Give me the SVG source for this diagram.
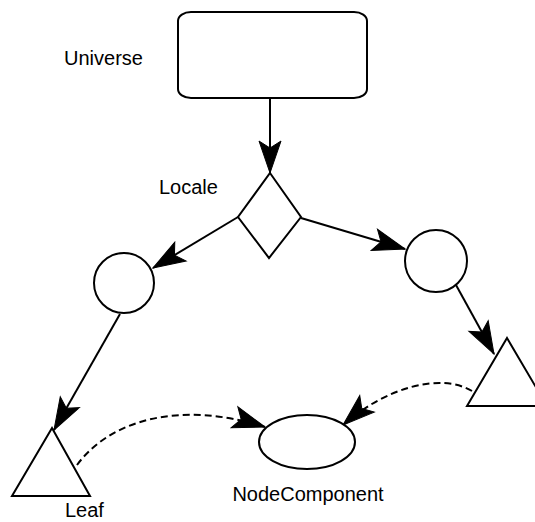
<svg xmlns="http://www.w3.org/2000/svg" width="535" height="522" viewBox="0 0 535 522">
  <style>
    .shape { fill: #ffffff; stroke: #000000; stroke-width: 2; }
    .edge { fill: none; stroke: #000000; stroke-width: 2; }
    .dashed { stroke-dasharray: 7 4; }
    .label { font-family: "Liberation Sans", Arial, sans-serif; font-size: 20px; fill: #000000; }
  </style>
  <defs>
    <!-- barbed arrowhead, tip at refX -->
    <marker id="barb" markerUnits="userSpaceOnUse" markerWidth="40" markerHeight="30" refX="36" refY="15" orient="auto" overflow="visible">
      <path d="M36,15 L4,4 L11,15 L4,26 Z" fill="#000000" stroke="#000000" stroke-width="1" stroke-linejoin="miter"/>
    </marker>
  </defs>

  <rect width="535" height="522" fill="#ffffff"/>

  <!-- connectors -->
  <g id="connectors">
    <path class="edge" d="M270,98 L270,173" marker-end="url(#barb)"/>
    <path class="edge" d="M238,217 L153,268" marker-end="url(#barb)"/>
    <path class="edge" d="M301,218 L405,249" marker-end="url(#barb)"/>
    <path class="edge" d="M120,314 L54,430" marker-end="url(#barb)"/>
    <path class="edge" d="M456,285 L494,354" marker-end="url(#barb)"/>
    <path class="edge dashed" d="M77,465 C110,420 180,400 265,427" marker-end="url(#barb)"/>
    <path class="edge dashed" d="M472,391 C440,372 385,388 343,425" marker-end="url(#barb)"/>
  </g>

  <g id="universe">
    <rect class="shape" x="178" y="12" width="189" height="86" rx="13" ry="9"/>
    <text class="label" x="64" y="65">Universe</text>
  </g>

  <g id="locale">
    <polygon class="shape" points="270,173 301,217 269,258 238,217"/>
    <text class="label" x="159" y="194">Locale</text>
  </g>

  <g id="group-left">
    <circle class="shape" cx="124" cy="283" r="30"/>
  </g>

  <g id="group-right">
    <circle class="shape" cx="436" cy="261" r="31"/>
  </g>

  <g id="leaf">
    <polygon class="shape" points="52,428 90,496 12,496"/>
    <text class="label" x="65" y="517">Leaf</text>
  </g>

  <g id="leaf-right">
    <polygon class="shape" points="507,338 547,406 467,406"/>
  </g>

  <g id="node-component">
    <ellipse class="shape" cx="307" cy="442" rx="48" ry="27"/>
    <text class="label" x="308" y="501" text-anchor="middle">NodeComponent</text>
  </g>
</svg>
